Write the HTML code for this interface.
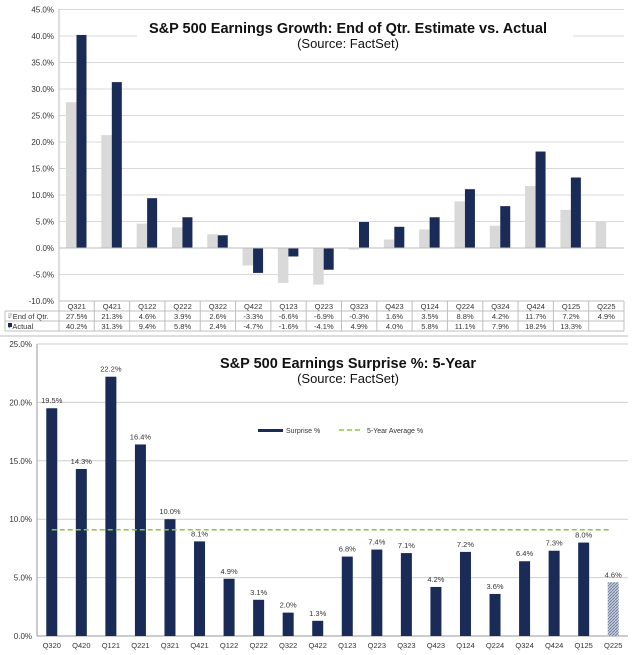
<!DOCTYPE html>
<html><head><meta charset="utf-8"><style>
body{margin:0;background:#fff;font-family:"Liberation Sans",Arial,sans-serif}
svg{display:block}
</style></head><body>
<svg id="c" width="640" height="655" viewBox="0 0 640 655"></svg>
<script>
const topCats=["Q321","Q421","Q122","Q222","Q322","Q422","Q123","Q223","Q323","Q423","Q124","Q224","Q324","Q424","Q125","Q225"];
const estVals=[27.5,21.3,4.6,3.9,2.6,-3.3,-6.6,-6.9,-0.3,1.6,3.5,8.8,4.2,11.7,7.2,4.9];
const actVals=[40.2,31.3,9.4,5.8,2.4,-4.7,-1.6,-4.1,4.9,4.0,5.8,11.1,7.9,18.2,13.3,null];
const topTicks=[45,40,35,30,25,20,15,10,5,0,-5,-10];
const botCats=["Q320","Q420","Q121","Q221","Q321","Q421","Q122","Q222","Q322","Q422","Q123","Q223","Q323","Q423","Q124","Q224","Q324","Q424","Q125","Q225"];
const surpVals=[19.5,14.3,22.2,16.4,10.0,8.1,4.9,3.1,2.0,1.3,6.8,7.4,7.1,4.2,7.2,3.6,6.4,7.3,8.0,4.6];
const avgVal=9.1;
const botTicks=[25,20,15,10,5,0];

const svg=document.getElementById('c');
const NS="http://www.w3.org/2000/svg";
function mk(t,a,p){const e=document.createElementNS(NS,t);for(const k in a)e.setAttribute(k,a[k]);(p||svg).appendChild(e);return e;}
const defs=mk('defs',{});
const pat=mk('pattern',{id:'hatch',width:3,height:3,patternUnits:'userSpaceOnUse'},defs);
mk('rect',{width:3,height:3,fill:'#c7cede'},pat);
mk('path',{d:'M0,3 L3,0',stroke:'#6f7e9c','stroke-width':1},pat);

// ---------- TOP CHART ----------
const tL=59,tR=624,tTop=9,tBot=301;
const tY=v=>248-v*5.3;
const tW=(tR-tL)/topCats.length;
const tX=i=>tL+i*tW;
const gTop=mk('g',{});


topTicks.forEach(t=>{
  const l=mk('line',{x1:tL,x2:tR,y1:tY(t),y2:tY(t),stroke:'#d9d9d9','stroke-width':1},gTop);
  
  
  const tx=mk('text',{x:tL-5,y:tY(t)+3,'text-anchor':'end','font-size':8,fill:'#333'},gTop);
  tx.textContent=t.toFixed(1)+'%';
  
  
});
mk('line',{x1:tL,x2:tL,y1:tTop,y2:tBot,stroke:'#bbb'},gTop);
mk('rect',{x:137,y:18,width:436,height:32,fill:'#fff'},gTop);
const tt=mk('text',{x:348,y:33,'text-anchor':'middle','font-size':14.5,'font-weight':'bold',fill:'#111'},gTop);
tt.textContent='S&P 500 Earnings Growth:  End of Qtr. Estimate vs. Actual';


const ts=mk('text',{x:348,y:48,'text-anchor':'middle','font-size':13,fill:'#111'},gTop);
ts.textContent='(Source:  FactSet)';


topCats.forEach((c,i)=>{
  const x0=tX(i)+7;
  const e=estVals[i];
  const r=mk('rect',{x:x0,y:Math.min(tY(0),tY(e)),width:10.5,height:Math.abs(tY(e)-tY(0)),fill:'#d9d9d9'},gTop);
  
  
  const a=actVals[i];
  if(a!==null){
    const r2=mk('rect',{x:x0+10.5,y:Math.min(tY(0),tY(a)),width:10,height:Math.abs(tY(a)-tY(0)),fill:'#1a2b57'},gTop);
    
    
  }
});
mk('line',{x1:tL,x2:tR,y1:tY(0),y2:tY(0),stroke:'#bbb'},gTop);
const rows=[301,311,321,331];
rows.forEach((y,k)=>mk('line',{x1:k==0?tL:5,x2:tR,y1:y,y2:y,stroke:'#bfbfbf'},gTop));
mk('line',{x1:5,x2:5,y1:311,y2:331,stroke:'#bfbfbf'},gTop);
for(let i=0;i<=topCats.length;i++)mk('line',{x1:tX(i),x2:tX(i),y1:301,y2:331,stroke:'#bfbfbf'},gTop);
const l1=mk('text',{x:8,y:319,'font-size':7.5,fill:'#333'},gTop);l1.textContent='\u25AA End of Qtr.';

const l2=mk('text',{x:8,y:329,'font-size':7.5,fill:'#333'},gTop);l2.textContent='\u25AA Actual';

topCats.forEach((c,i)=>{
  const cx=tX(i)+tW/2;
  const a=mk('text',{x:cx,y:309,'text-anchor':'middle','font-size':7.5,fill:'#333'},gTop);a.textContent=c;
  
  const b=mk('text',{x:cx,y:319,'text-anchor':'middle','font-size':7.5,fill:'#333'},gTop);b.textContent=estVals[i].toFixed(1)+'%';
  
  if(actVals[i]!==null){const d=mk('text',{x:cx,y:329,'text-anchor':'middle','font-size':7.5,fill:'#333'},gTop);d.textContent=actVals[i].toFixed(1)+'%';
  }
});
mk('rect',{x:8,y:313,width:4,height:4,fill:'#d9d9d9'},gTop);
mk('rect',{x:8,y:323,width:4,height:4,fill:'#1a2b57'},gTop);

// ---------- BOTTOM CHART ----------
const bL=37,bR=628;
const bY=v=>636-v*11.68;
const bW=(bR-bL)/botCats.length;
const bX=i=>bL+i*bW+bW/2;
const gB=mk('g',{});


mk('line',{x1:0,x2:bR,y1:336,y2:336,stroke:'#bbb'},gB);
botTicks.forEach(t=>{
  const l=mk('line',{x1:bL,x2:bR,y1:bY(t),y2:bY(t),stroke:t==0?'#999':'#cfcfcf'},gB);
  
  const tx=mk('text',{x:bL-5,y:bY(t)+3,'text-anchor':'end','font-size':8,fill:'#333'},gB);
  tx.textContent=t.toFixed(1)+'%';
  
});
mk('line',{x1:bL,x2:bL,y1:bY(25),y2:bY(0),stroke:'#999'},gB);
mk('rect',{x:200,y:352,width:300,height:40,fill:'#fff'},gB);
const bt=mk('text',{x:348,y:368,'text-anchor':'middle','font-size':14.5,'font-weight':'bold',fill:'#111'},gB);
bt.textContent='S&P 500 Earnings Surprise %:  5-Year';

const bs=mk('text',{x:348,y:383,'text-anchor':'middle','font-size':13,fill:'#111'},gB);
bs.textContent='(Source:  FactSet)';

mk('rect',{x:258,y:429,width:25,height:3,fill:'#1a2b57'},gB);
const lg1=mk('text',{x:286,y:433,'font-size':7,fill:'#333'},gB);lg1.textContent='Surprise %';

mk('line',{x1:339,x2:363,y1:430,y2:430,stroke:'#8cc63f','stroke-width':1.5,'stroke-dasharray':'5,3'},gB);
const lg2=mk('text',{x:367,y:433,'font-size':7,fill:'#333'},gB);lg2.textContent='5-Year Average %';

botCats.forEach((c,i)=>{
  const v=surpVals[i];
  const last=i==botCats.length-1;
  const r=mk('rect',{x:bX(i)-5.5,y:bY(v),width:11,height:bY(0)-bY(v),fill:last?'url(#hatch)':'#1a2b57'},gB);
  
  const vl=mk('text',{x:bX(i),y:bY(v)-5,'text-anchor':'middle','font-size':7.5,fill:'#333'},gB);
  vl.textContent=v.toFixed(1)+'%';
  
  const xl=mk('text',{x:bX(i),y:648,'text-anchor':'middle','font-size':7.5,fill:'#333'},gB);
  xl.textContent=c;
  
});
const avg=mk('line',{x1:bX(0),x2:bX(botCats.length-1)-4,y1:bY(avgVal),y2:bY(avgVal),stroke:'#8cc63f','stroke-width':1.5,'stroke-dasharray':'5,3'},gB);

</script>
</body></html>
